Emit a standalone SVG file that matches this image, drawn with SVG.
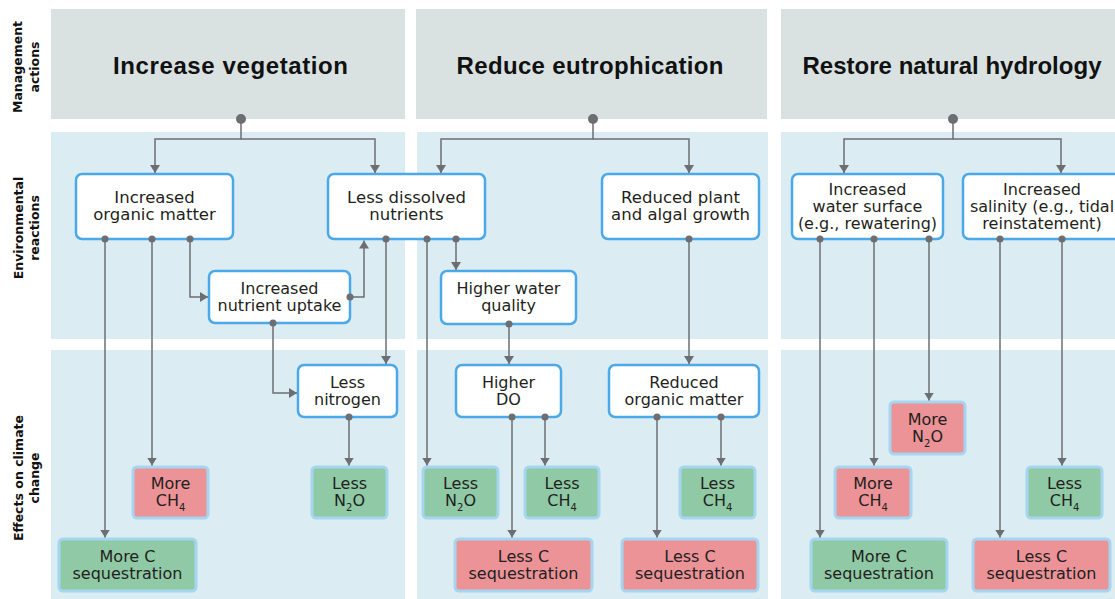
<svg xmlns="http://www.w3.org/2000/svg" width="1115" height="599" viewBox="0 0 1115 599">
<style>
.hdr{fill:#d9e2e1}
.pan{fill:#dbedf3}
.lbl{font-family:"DejaVu Sans",sans-serif;font-weight:bold;font-size:12.5px;fill:#111;text-anchor:middle}
.title{font-family:"Liberation Sans",Arial,sans-serif;font-weight:bold;font-size:24px;fill:#111;text-anchor:middle}
.wb{fill:#fff;stroke:#4aa9e6;stroke-width:2.5}
.gb{fill:#8fc9a5;stroke:#a6d5f0;stroke-width:3}
.rb{fill:#ec9398;stroke:#a6d5f0;stroke-width:3}
.t{font-family:"DejaVu Sans",sans-serif;font-size:16px;fill:#231f20;text-anchor:middle}
.big{font-size:16.5px}
.sub{font-size:10px}
.c{fill:none;stroke:#6d6e71;stroke-width:1.5}
.d{fill:#6d6e71}
</style>
<defs>
<marker id="arr" viewBox="0 0 8 10" refX="8" refY="5" markerWidth="8" markerHeight="10" markerUnits="userSpaceOnUse" orient="auto">
<path d="M0,0 L8,5 L0,10 z" fill="#6d6e71"/>
</marker>
</defs>
<rect width="1115" height="599" fill="#fff"/>
<g id="panels">
<rect class="hdr" x="51" y="9" width="354" height="110"/>
<rect class="hdr" x="416" y="9" width="351" height="110"/>
<rect class="hdr" x="781" y="9" width="334" height="110"/>
<rect class="pan" x="51" y="132" width="354" height="207"/>
<rect class="pan" x="417" y="132" width="351" height="207"/>
<rect class="pan" x="781" y="132" width="334" height="207"/>
<rect class="pan" x="51" y="350" width="354" height="249"/>
<rect class="pan" x="417" y="350" width="351" height="249"/>
<rect class="pan" x="781" y="350" width="334" height="249"/>
</g>
<g id="row-labels">
<text class="lbl" transform="translate(22,67) rotate(-90)">Management</text>
<text class="lbl" transform="translate(38.5,67) rotate(-90)">actions</text>
<text class="lbl" transform="translate(22.5,228) rotate(-90)">Environmental</text>
<text class="lbl" transform="translate(39,228) rotate(-90)">reactions</text>
<text class="lbl" transform="translate(22.5,478) rotate(-90)">Effects on climate</text>
<text class="lbl" transform="translate(39,478) rotate(-90)">change</text>
</g>
<g id="titles">
<text class="title" x="230.5" y="74" textLength="235">Increase vegetation</text>
<text class="title" x="590" y="74" textLength="267">Reduce eutrophication</text>
<text class="title" x="952" y="74" textLength="299">Restore natural hydrology</text>
</g>
<g id="n1"><rect class="wb" x="76" y="174" width="157" height="65" rx="6"/><text class="t big" x="154.5" y="203">Increased</text><text class="t big" x="154.5" y="220">organic matter</text></g>
<g id="n2"><rect class="wb" x="328" y="174" width="157" height="65" rx="6"/><text class="t big" x="406.5" y="203">Less dissolved</text><text class="t big" x="406.5" y="220">nutrients</text></g>
<g id="n3"><rect class="wb" x="602" y="174" width="157" height="65" rx="6"/><text class="t big" x="680.5" y="203">Reduced plant</text><text class="t big" x="680.5" y="220">and algal growth</text></g>
<g id="n4"><rect class="wb" x="792" y="174" width="151" height="65" rx="6"/><text class="t" x="867.5" y="195">Increased</text><text class="t" x="867.5" y="212">water surface</text><text class="t" x="867.5" y="229">(e.g., rewatering)</text></g>
<g id="n5"><rect class="wb" x="963" y="174" width="158" height="65" rx="6"/><text class="t" x="1042" y="195">Increased</text><text class="t" x="1042" y="212">salinity (e.g., tidal</text><text class="t" x="1042" y="229">reinstatement)</text></g>
<g id="n6"><rect class="wb" x="209" y="271" width="141" height="52" rx="6"/><text class="t" x="279.5" y="293.5">Increased</text><text class="t" x="279.5" y="310.5">nutrient uptake</text></g>
<g id="n7"><rect class="wb" x="441" y="271" width="135" height="53" rx="6"/><text class="t" x="508.5" y="294">Higher water</text><text class="t" x="508.5" y="311">quality</text></g>
<g id="n8"><rect class="wb" x="298" y="365" width="99" height="52" rx="6"/><text class="t" x="347.5" y="387.5">Less</text><text class="t" x="347.5" y="404.5">nitrogen</text></g>
<g id="n9"><rect class="wb" x="456" y="365" width="105" height="52" rx="6"/><text class="t" x="508.5" y="387.5">Higher</text><text class="t" x="508.5" y="404.5">DO</text></g>
<g id="n10"><rect class="wb" x="609" y="365" width="150" height="52" rx="6"/><text class="t" x="684" y="387.5">Reduced</text><text class="t" x="684" y="404.5">organic matter</text></g>
<g id="e1"><rect class="rb" x="133" y="467" width="75" height="51" rx="4"/><text class="t" x="170.5" y="489">More</text><text class="t" x="170.5" y="506">CH<tspan class="sub" dy="5">4</tspan></text></g>
<g id="e2"><rect class="gb" x="312" y="467" width="75" height="51" rx="4"/><text class="t" x="349.5" y="489">Less</text><text class="t" x="349.5" y="506">N<tspan class="sub" dy="5">2</tspan><tspan dy="-5">O</tspan></text></g>
<g id="e3"><rect class="gb" x="423" y="467" width="75" height="51" rx="4"/><text class="t" x="460.5" y="489">Less</text><text class="t" x="460.5" y="506">N<tspan class="sub" dy="5">2</tspan><tspan dy="-5">O</tspan></text></g>
<g id="e4"><rect class="gb" x="525" y="467" width="74" height="51" rx="4"/><text class="t" x="562" y="489">Less</text><text class="t" x="562" y="506">CH<tspan class="sub" dy="5">4</tspan></text></g>
<g id="e5"><rect class="gb" x="680" y="467" width="75" height="51" rx="4"/><text class="t" x="717.5" y="489">Less</text><text class="t" x="717.5" y="506">CH<tspan class="sub" dy="5">4</tspan></text></g>
<g id="e6"><rect class="rb" x="835" y="467" width="76" height="51" rx="4"/><text class="t" x="873" y="489">More</text><text class="t" x="873" y="506">CH<tspan class="sub" dy="5">4</tspan></text></g>
<g id="e7"><rect class="gb" x="1027" y="467" width="75" height="51" rx="4"/><text class="t" x="1064.5" y="489">Less</text><text class="t" x="1064.5" y="506">CH<tspan class="sub" dy="5">4</tspan></text></g>
<g id="e8"><rect class="rb" x="890" y="402" width="75" height="52" rx="4"/><text class="t" x="927.5" y="424.5">More</text><text class="t" x="927.5" y="441.5">N<tspan class="sub" dy="5">2</tspan><tspan dy="-5">O</tspan></text></g>
<g id="s1"><rect class="gb" x="59" y="539" width="137" height="52" rx="4"/><text class="t" x="127.5" y="561.5">More C</text><text class="t" x="127.5" y="578.5">sequestration</text></g>
<g id="s2"><rect class="rb" x="455" y="539" width="137" height="52" rx="4"/><text class="t" x="523.5" y="561.5">Less C</text><text class="t" x="523.5" y="578.5">sequestration</text></g>
<g id="s3"><rect class="rb" x="622" y="539" width="136" height="52" rx="4"/><text class="t" x="690" y="561.5">Less C</text><text class="t" x="690" y="578.5">sequestration</text></g>
<g id="s4"><rect class="gb" x="811" y="539" width="136" height="52" rx="4"/><text class="t" x="879" y="561.5">More C</text><text class="t" x="879" y="578.5">sequestration</text></g>
<g id="s5"><rect class="rb" x="973" y="539" width="137" height="52" rx="4"/><text class="t" x="1041.5" y="561.5">Less C</text><text class="t" x="1041.5" y="578.5">sequestration</text></g>
<g id="connectors">
<path class="c" d="M241,119 V139 H155 V173" marker-end="url(#arr)"/>
<path class="c" d="M241,139 H375 V173" marker-end="url(#arr)"/>
<path class="c" d="M593,119 V139 H441 V173" marker-end="url(#arr)"/>
<path class="c" d="M593,139 H689 V173" marker-end="url(#arr)"/>
<path class="c" d="M953,119 V139 H844 V173" marker-end="url(#arr)"/>
<path class="c" d="M953,139 H1061 V173" marker-end="url(#arr)"/>
<circle class="d" cx="241" cy="119" r="5"/>
<circle class="d" cx="593" cy="119" r="5"/>
<circle class="d" cx="953" cy="119" r="5"/>
<path class="c" d="M105,239 V537.5" marker-end="url(#arr)"/>
<path class="c" d="M152,239 V465.5" marker-end="url(#arr)"/>
<path class="c" d="M190,239 V297 H208" marker-end="url(#arr)"/>
<path class="c" d="M350,297 H364 V240.5" marker-end="url(#arr)"/>
<path class="c" d="M273,323 V393 H297" marker-end="url(#arr)"/>
<path class="c" d="M386,239 V364" marker-end="url(#arr)"/>
<path class="c" d="M349,417 V465.5" marker-end="url(#arr)"/>
<path class="c" d="M427,239 V465.5" marker-end="url(#arr)"/>
<path class="c" d="M456,239 V270" marker-end="url(#arr)"/>
<path class="c" d="M509,324 V364" marker-end="url(#arr)"/>
<path class="c" d="M689,239 V364" marker-end="url(#arr)"/>
<path class="c" d="M512,417 V537.5" marker-end="url(#arr)"/>
<path class="c" d="M545,417 V465.5" marker-end="url(#arr)"/>
<path class="c" d="M657,417 V537.5" marker-end="url(#arr)"/>
<path class="c" d="M721,417 V465.5" marker-end="url(#arr)"/>
<path class="c" d="M820,239 V537.5" marker-end="url(#arr)"/>
<path class="c" d="M874,239 V465.5" marker-end="url(#arr)"/>
<path class="c" d="M929,239 V400.5" marker-end="url(#arr)"/>
<path class="c" d="M1000,239 V537.5" marker-end="url(#arr)"/>
<path class="c" d="M1062,239 V465.5" marker-end="url(#arr)"/>
<circle class="d" cx="105" cy="239" r="3.5"/>
<circle class="d" cx="152" cy="239" r="3.5"/>
<circle class="d" cx="190" cy="239" r="3.5"/>
<circle class="d" cx="350" cy="297" r="3.5"/>
<circle class="d" cx="273" cy="323" r="3.5"/>
<circle class="d" cx="386" cy="239" r="3.5"/>
<circle class="d" cx="349" cy="417" r="3.5"/>
<circle class="d" cx="427" cy="239" r="3.5"/>
<circle class="d" cx="456" cy="239" r="3.5"/>
<circle class="d" cx="509" cy="324" r="3.5"/>
<circle class="d" cx="689" cy="239" r="3.5"/>
<circle class="d" cx="512" cy="417" r="3.5"/>
<circle class="d" cx="545" cy="417" r="3.5"/>
<circle class="d" cx="657" cy="417" r="3.5"/>
<circle class="d" cx="721" cy="417" r="3.5"/>
<circle class="d" cx="820" cy="239" r="3.5"/>
<circle class="d" cx="874" cy="239" r="3.5"/>
<circle class="d" cx="929" cy="239" r="3.5"/>
<circle class="d" cx="1000" cy="239" r="3.5"/>
<circle class="d" cx="1062" cy="239" r="3.5"/>
</g>
</svg>
